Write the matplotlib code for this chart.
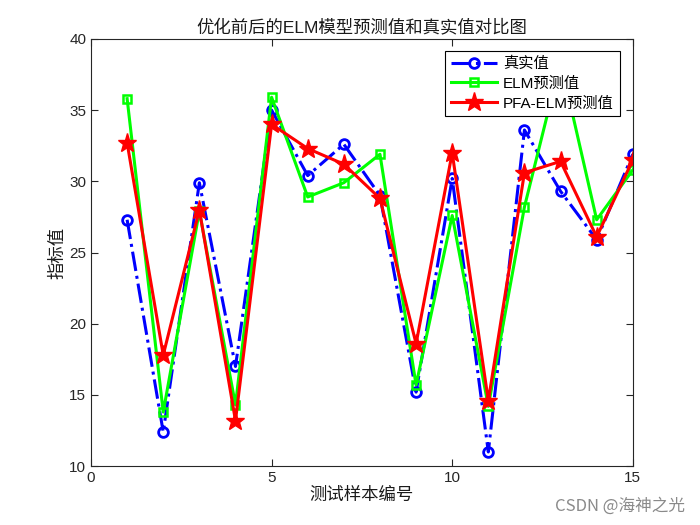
import matplotlib
matplotlib.use("Agg")
import matplotlib.pyplot as plt

x = list(range(1, 16))
true_vals = [27.3, 12.4, 29.9, 17.0, 35.0, 30.4, 32.6, 29.0, 15.2, 30.2, 11.0, 33.6, 29.3, 25.9, 31.9]
elm_vals = [35.8, 13.8, 27.9, 14.3, 35.9, 28.9, 29.9, 31.9, 15.7, 27.6, 14.2, 28.2, 38.4, 27.3, 30.8]
pfa_vals = [32.7, 17.8, 28.0, 13.2, 34.0, 32.3, 31.2, 28.8, 18.6, 32.0, 14.6, 30.6, 31.4, 26.1, 31.5]
labels = ["真实值", "ELM预测值", "PFA-ELM预测值"]
title = "优化前后的ELM模型预测值和真实值对比图"
xlabel = "测试样本编号"
ylabel = "指标值"

plt.rcParams['font.family'] = ['Liberation Sans', 'Noto Sans CJK SC', 'DejaVu Sans']

fig = plt.figure(figsize=(7, 5.25), dpi=100)
ax = fig.add_axes([0.13, 0.112, 0.774, 0.814])

ax.plot(x, true_vals, color='#0000ff', linestyle='-.', linewidth=2.2, marker='o',
        markersize=7, markerfacecolor='none', markeredgewidth=2, label=labels[0], zorder=2)
ax.plot(x, elm_vals, color='#00ff00', linestyle='-', linewidth=2.2, marker='s',
        markersize=6, markerfacecolor='none', markeredgewidth=1.8, label=labels[1], zorder=2)
ax.plot(x, pfa_vals, color='#ff0000', linestyle='-', linewidth=2.2, marker='*',
        markersize=14, label=labels[2], zorder=2)

ax.set_xlim(0, 15)
ax.set_ylim(10, 40)
ax.set_xticks([0, 5, 10, 15])
ax.set_yticks([10, 15, 20, 25, 30, 35, 40])
ax.tick_params(direction='in', top=True, right=True, labelsize=11, length=5, width=0.8,
               colors='#262626')
for s in ax.spines.values():
    s.set_linewidth(0.8)
    s.set_color('#262626')

ax.set_title(title, fontsize=12.5, pad=5, color='#1a1a1a')
ax.set_xlabel(xlabel, fontsize=12.5, labelpad=1, color='#1a1a1a')
ax.set_ylabel(ylabel, fontsize=12.5, labelpad=3, color='#1a1a1a')

leg = ax.legend(loc='upper right', bbox_to_anchor=(0.976, 0.972), fontsize=11,
                frameon=True, fancybox=False, edgecolor='black', facecolor='white',
                framealpha=1, handlelength=3.0, borderpad=0.38, labelspacing=0.37,
                handletextpad=0.4, borderaxespad=0)
leg.get_frame().set_linewidth(0.8)
leg.set_zorder(20)

fig.text(0.979, 0.02, "CSDN @海神之光", ha='right', va='bottom', fontsize=12,
         color='#8a8a8a', family=['Noto Sans CJK SC', 'DejaVu Sans'])

fig.savefig("out.png", dpi=100)
